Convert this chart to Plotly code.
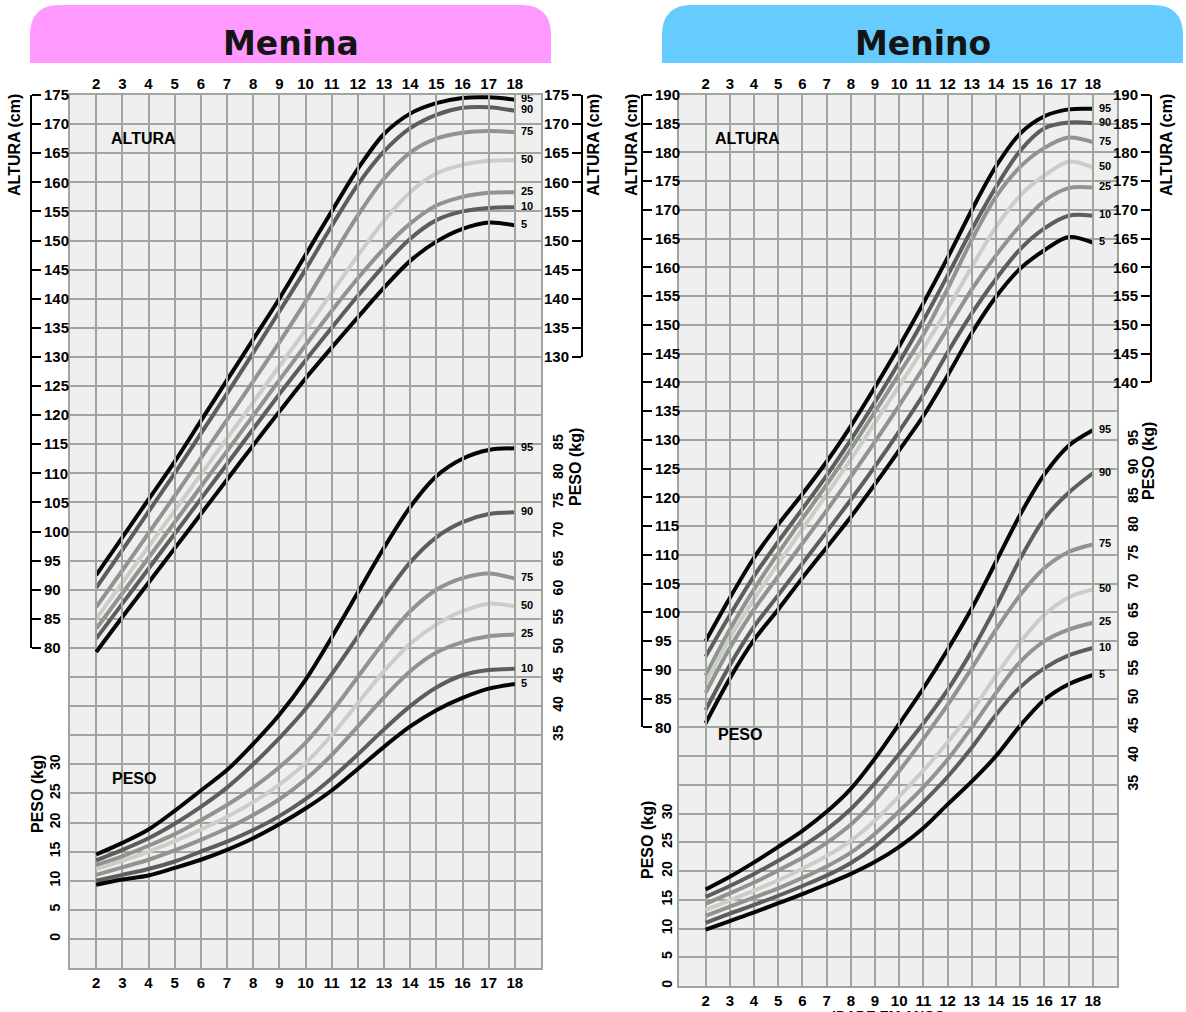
import plotly.graph_objects as go

W, H = 1186, 1012

# ---------------- data ----------------
ages = list(range(2, 19))
age_tick_labels = [str(a) for a in ages]
percentiles = ["95", "90", "75", "50", "25", "10", "5"]

# Menina (girls) – height, cm
girls_height_p95 = [92.5, 99.0, 105.5, 112.0, 119.0, 126.0, 133.0, 140.0, 147.5, 155.0, 162.3, 168.3, 171.8, 173.6, 174.5, 174.6, 174.2]
girls_height_p90 = [90.3, 96.8, 103.4, 110.0, 116.8, 123.7, 130.7, 137.8, 145.0, 152.5, 159.6, 165.3, 169.3, 171.6, 172.8, 172.9, 172.3]
girls_height_p75 = [87.0, 93.3, 99.7, 106.1, 112.6, 119.2, 125.8, 132.5, 139.5, 147.0, 154.3, 160.6, 165.1, 167.5, 168.5, 168.8, 168.6]
girls_height_p50 = [85.0, 91.2, 97.4, 103.6, 109.8, 116.0, 122.2, 128.4, 134.6, 141.0, 147.4, 153.4, 158.3, 161.5, 163.0, 163.7, 163.8]
girls_height_p25 = [83.3, 89.4, 95.5, 101.6, 107.7, 113.8, 119.9, 126.0, 132.0, 137.9, 143.5, 148.6, 152.9, 156.0, 157.5, 158.2, 158.3]
girls_height_p10 = [81.6, 87.6, 93.6, 99.6, 105.6, 111.6, 117.6, 123.6, 129.4, 135.0, 140.5, 145.7, 150.3, 153.5, 155.0, 155.6, 155.7]
girls_height_p5 = [79.3, 85.3, 91.2, 97.1, 103.0, 108.9, 114.8, 120.6, 126.3, 131.6, 136.8, 141.9, 146.5, 149.8, 152.0, 153.1, 152.6]

# Menina (girls) – weight, kg
girls_weight_p95 = [14.5, 16.5, 18.8, 22.0, 25.5, 29.0, 33.5, 38.5, 44.5, 51.8, 59.5, 67.2, 74.2, 79.5, 82.5, 84.0, 84.3]
girls_weight_p90 = [13.5, 15.3, 17.3, 19.8, 22.7, 26.0, 30.0, 34.5, 39.5, 45.5, 52.0, 58.7, 64.7, 69.0, 71.6, 73.0, 73.3]
girls_weight_p75 = [12.7, 14.2, 16.0, 18.0, 20.4, 23.0, 26.0, 29.5, 33.7, 39.0, 45.0, 51.0, 56.3, 60.0, 62.0, 62.8, 61.9]
girls_weight_p50 = [12.0, 13.4, 15.0, 16.8, 18.8, 21.0, 23.5, 26.5, 30.2, 35.0, 40.5, 46.0, 50.7, 54.0, 56.3, 57.6, 57.1]
girls_weight_p25 = [11.0, 12.3, 13.6, 15.2, 17.0, 19.0, 21.3, 24.0, 27.4, 31.6, 36.5, 41.5, 46.0, 49.2, 51.0, 52.0, 52.3]
girls_weight_p10 = [10.0, 11.0, 12.0, 13.3, 15.0, 16.7, 18.7, 21.1, 24.0, 27.6, 31.7, 36.0, 40.0, 43.2, 45.3, 46.2, 46.4]
girls_weight_p5 = [9.3, 10.2, 10.9, 12.2, 13.6, 15.3, 17.3, 19.7, 22.4, 25.5, 29.2, 33.0, 36.5, 39.3, 41.4, 43.0, 43.8]

# Menino (boys) – height, cm
boys_height_p95 = [95.0, 102.5, 109.5, 115.3, 120.6, 126.2, 132.4, 139.2, 146.3, 153.8, 161.7, 170.0, 177.6, 183.3, 186.3, 187.5, 187.6]
boys_height_p90 = [92.3, 99.5, 106.3, 112.3, 118.0, 123.8, 130.0, 136.6, 143.5, 150.8, 158.6, 166.6, 174.0, 180.3, 184.2, 185.2, 185.1]
boys_height_p75 = [89.0, 97.0, 104.0, 110.3, 116.3, 122.2, 128.4, 134.9, 141.5, 148.3, 156.3, 164.8, 172.3, 177.5, 180.8, 182.6, 181.8]
boys_height_p50 = [87.7, 95.5, 102.3, 108.5, 114.5, 120.5, 126.6, 133.0, 139.4, 145.9, 152.8, 160.1, 167.0, 172.5, 176.0, 178.4, 177.4]
boys_height_p25 = [86.0, 93.8, 100.5, 106.3, 112.0, 117.7, 123.6, 129.7, 136.0, 142.6, 149.4, 156.2, 162.1, 167.3, 171.6, 173.8, 173.9]
boys_height_p10 = [83.0, 90.8, 97.5, 103.0, 108.5, 114.0, 119.6, 125.4, 131.5, 137.9, 145.2, 152.0, 158.0, 163.2, 166.8, 169.0, 169.0]
boys_height_p5 = [80.7, 88.5, 95.2, 100.5, 106.0, 111.3, 116.6, 122.3, 128.2, 134.2, 141.2, 148.6, 154.9, 159.8, 163.0, 165.3, 164.3]

# Menino (boys) – weight, kg
boys_weight_p95 = [16.8, 19.0, 21.5, 24.2, 27.0, 30.3, 34.3, 39.6, 45.6, 51.8, 58.5, 65.7, 73.8, 82.0, 89.0, 94.0, 96.7]
boys_weight_p90 = [15.5, 17.4, 19.5, 21.8, 24.3, 27.2, 30.8, 35.3, 40.4, 45.7, 51.5, 58.3, 66.0, 74.3, 81.3, 85.8, 89.2]
boys_weight_p75 = [14.3, 16.1, 18.0, 20.1, 22.3, 24.9, 28.1, 32.3, 37.4, 43.0, 48.9, 55.3, 62.0, 68.0, 72.7, 75.5, 76.8]
boys_weight_p50 = [13.2, 14.9, 16.6, 18.4, 20.4, 22.6, 25.3, 28.8, 33.0, 37.5, 42.4, 47.8, 54.0, 59.8, 64.6, 67.6, 69.0]
boys_weight_p25 = [12.2, 13.8, 15.4, 17.0, 18.8, 20.8, 23.2, 26.5, 30.4, 34.6, 39.4, 45.0, 51.0, 56.4, 60.0, 62.0, 63.2]
boys_weight_p10 = [11.0, 12.6, 14.1, 15.7, 17.4, 19.2, 21.4, 24.3, 28.0, 32.0, 36.4, 41.5, 47.2, 52.0, 55.3, 57.5, 58.8]
boys_weight_p5 = [9.8, 11.3, 12.8, 14.4, 16.0, 17.7, 19.5, 21.6, 24.2, 27.5, 31.6, 35.6, 40.0, 45.3, 49.8, 52.5, 54.1]

# tick labels
girls_height_left_ticks = list(range(80, 176, 5))
girls_height_right_ticks = list(range(130, 176, 5))
girls_weight_left_ticks = list(range(0, 31, 5))
girls_weight_right_ticks = list(range(35, 86, 5))
boys_height_left_ticks = list(range(80, 191, 5))
boys_height_right_ticks = list(range(140, 191, 5))
boys_weight_left_ticks = list(range(0, 31, 5))
boys_weight_right_ticks = list(range(35, 96, 5))

girls_height = [girls_height_p95, girls_height_p90, girls_height_p75, girls_height_p50,
                girls_height_p25, girls_height_p10, girls_height_p5]
girls_weight = [girls_weight_p95, girls_weight_p90, girls_weight_p75, girls_weight_p50,
                girls_weight_p25, girls_weight_p10, girls_weight_p5]
boys_height = [boys_height_p95, boys_height_p90, boys_height_p75, boys_height_p50,
               boys_height_p25, boys_height_p10, boys_height_p5]
boys_weight = [boys_weight_p95, boys_weight_p90, boys_weight_p75, boys_weight_p50,
               boys_weight_p25, boys_weight_p10, boys_weight_p5]

# ---------------- style ----------------
GRID = "#a1a5a0"
BG = "#efefef"
FONT = "Liberation Sans, Arial, sans-serif"
line_colors = {"95": "#050505", "90": "#5b5e5a", "75": "#8f948e", "50": "#cbcdc9",
               "25": "#8f948e", "10": "#5b5e5a", "5": "#050505"}
tickfont = dict(family=FONT, size=15, color="black", weight="bold")
wtickfont = dict(family=FONT, size=14, color="black", weight="bold")


def xf(px):
    return px / W


def yf(py):
    return 1 - py / H


panels = [
    dict(title="Menina", color="#ff99ff", header=(30, 551, 5, 63), grid=(70, 541, 95, 968),
         xrange=[1, 19], hrange=[25, 175], woff=30,
         height=girls_height, weight=girls_weight,
         hl_ticks=girls_height_left_ticks, hr_ticks=girls_height_right_ticks,
         wl_ticks=girls_weight_left_ticks, wr_ticks=girls_weight_right_ticks,
         hl_pos=31, hr_pos=582, wl_pos=63, wr_pos=548,
         alt_l=15, alt_r=594, peso_l=(37, 794), peso_r=(575, 467),
         altura_lbl=(143, 138), peso_lbl=(134, 778),
         ax=dict(xm=1, xt=2, ym=1, yw=2, ywr=3, yhl=4, yhr=5)),
    dict(title="Menino", color="#66ccff", header=(662, 1183, 5, 63), grid=(679, 1117, 95, 986),
         xrange=[0.9, 19], hrange=[35, 190], woff=35,
         height=boys_height, weight=boys_weight,
         hl_ticks=boys_height_left_ticks, hr_ticks=boys_height_right_ticks,
         wl_ticks=boys_weight_left_ticks, wr_ticks=boys_weight_right_ticks,
         hl_pos=642, hr_pos=1151, wl_pos=675, wr_pos=1123,
         alt_l=632, alt_r=1167, peso_l=(647, 840), peso_r=(1149, 461),
         altura_lbl=(747, 138), peso_lbl=(740, 734),
         ax=dict(xm=3, xt=4, ym=6, yw=7, ywr=8, yhl=9, yhr=10)),
]


def aname(kind, n):
    return f"{kind}axis" if n == 1 else f"{kind}axis{n}"


def aref(kind, n):
    return kind if n == 1 else f"{kind}{n}"


fig = go.Figure()
layout = dict(width=W, height=H, margin=dict(l=0, r=0, t=0, b=0, pad=0, autoexpand=False),
              paper_bgcolor="white", plot_bgcolor="rgba(0,0,0,0)",
              showlegend=False, shapes=[], annotations=[])

for p in panels:
    a = p["ax"]
    x0, x1, ytop, ybot = p["grid"]
    h0, h1 = p["hrange"]

    def cpy(c, ytop=ytop, ybot=ybot, h0=h0, h1=h1):
        return ytop + (h1 - c) / (h1 - h0) * (ybot - ytop)

    xm, xt = aref("x", a["xm"]), aref("x", a["xt"])
    ym = aref("y", a["ym"])

    # header tab
    hx0, hx1, hy0, hy1 = p["header"]
    r = 30
    pts = [("M", hx0, hy1), ("L", hx0, hy0 + r), ("Q", hx0, hy0, hx0 + r, hy0),
           ("L", hx1 - r, hy0), ("Q", hx1, hy0, hx1, hy0 + r), ("L", hx1, hy1)]
    path = ""
    for seg in pts:
        cmd = seg[0]
        coords = seg[1:]
        s = " ".join(f"{xf(coords[i]):.5f},{yf(coords[i+1]):.5f}" for i in range(0, len(coords), 2))
        path += f"{cmd}{s} "
    path += "Z"
    layout["shapes"].append(dict(type="path", path=path, xref="paper", yref="paper",
                                 fillcolor=p["color"], line=dict(width=0), layer="below"))
    layout["annotations"].append(dict(text=f"<b>{p['title']}</b>", x=xf((hx0 + hx1) / 2), y=yf(44),
                                      xref="paper", yref="paper", showarrow=False,
                                      xanchor="center", yanchor="middle",
                                      font=dict(family="DejaVu Sans, Verdana, sans-serif", size=33, color="#141414")))
    # grid background
    layout["shapes"].append(dict(type="rect", xref="paper", yref="paper", x0=xf(x0), x1=xf(x1),
                                 y0=yf(ybot), y1=yf(ytop), fillcolor=BG, line=dict(width=0), layer="below"))

    # main axes
    layout[aname("x", a["xm"])] = dict(domain=[xf(x0), xf(x1)], range=p["xrange"], anchor=ym,
                                       tickvals=ages, ticktext=age_tick_labels, showgrid=True,
                                       gridcolor=GRID, gridwidth=2, showline=True, mirror=True,
                                       linecolor=GRID, linewidth=2, ticks="", tickfont=tickfont,
                                       zeroline=False, fixedrange=True, automargin=False,
                                       ticklabelstandoff=0)
    layout[aname("x", a["xt"])] = dict(overlaying=xm, side="top", anchor=ym, range=p["xrange"],
                                       tickvals=ages, ticktext=age_tick_labels, showgrid=False,
                                       showline=False, ticks="", tickfont=tickfont, zeroline=False,
                                       automargin=False, ticklabelstandoff=2)
    layout[aname("y", a["ym"])] = dict(domain=[yf(ybot), yf(ytop)], range=p["hrange"], anchor=xm,
                                       tickvals=list(range(h0, h1 + 1, 5)), showticklabels=False,
                                       showgrid=True, gridcolor=GRID, gridwidth=2, showline=True,
                                       mirror=True, linecolor=GRID, linewidth=2, ticks="",
                                       zeroline=False, fixedrange=True, automargin=False)
    wrange = [h0 - p["woff"], h1 - p["woff"]]
    layout[aname("y", a["yw"])] = dict(overlaying=ym, anchor="free", position=xf(p["wl_pos"]),
                                       side="left", range=wrange, tickvals=p["wl_ticks"],
                                       tickangle=-90, showgrid=False, showline=False, ticks="",
                                       zeroline=False, tickfont=wtickfont, automargin=False)
    layout[aname("y", a["ywr"])] = dict(overlaying=ym, anchor="free", position=xf(p["wr_pos"]),
                                        side="right", range=wrange, tickvals=p["wr_ticks"],
                                        tickangle=-90, showgrid=False, showline=False, ticks="",
                                        zeroline=False, tickfont=wtickfont, automargin=False)
    hl0 = p["hl_ticks"][0]
    layout[aname("y", a["yhl"])] = dict(anchor="free", position=xf(p["hl_pos"]), side="right",
                                        domain=[yf(cpy(hl0)), yf(ytop)], range=[hl0, h1],
                                        tickvals=p["hl_ticks"], ticks="outside", ticklen=9,
                                        tickwidth=2, tickcolor="black", showline=True,
                                        linecolor="black", linewidth=2, showgrid=False,
                                        zeroline=False, tickfont=tickfont, automargin=False)
    hr0 = p["hr_ticks"][0]
    layout[aname("y", a["yhr"])] = dict(anchor="free", position=xf(p["hr_pos"]), side="left",
                                        domain=[yf(cpy(hr0)), yf(ytop)], range=[hr0, h1],
                                        tickvals=p["hr_ticks"], ticks="outside", ticklen=9,
                                        tickwidth=2, tickcolor="black", showline=True,
                                        linecolor="black", linewidth=2, showgrid=False,
                                        zeroline=False, tickfont=tickfont, automargin=False)

    # dummy traces so every axis is drawn
    for xa, ya in [(xt, ym), (xm, aref("y", a["ywr"])), (xm, aref("y", a["yhl"])), (xm, aref("y", a["yhr"]))]:
        fig.add_trace(go.Scatter(x=[None], y=[None], xaxis=xa, yaxis=ya, mode="lines",
                                 hoverinfo="skip", showlegend=False))

    # curves
    for name, hv, wv in zip(percentiles, p["height"], p["weight"]):
        txt = [""] * (len(ages) - 1) + ["  " + name]
        for vals, ya in [(hv, ym), (wv, aref("y", a["yw"]))]:
            fig.add_trace(go.Scatter(
                x=ages, y=vals, xaxis=xm, yaxis=ya, mode="lines+text", text=txt,
                textposition="middle right",
                textfont=dict(family=FONT, size=11, color="black", weight="bold"),
                line=dict(color=line_colors[name], width=4, shape="spline", smoothing=0.9),
                cliponaxis=False, hoverinfo="skip", showlegend=False))

    # in-chart labels and axis titles
    def ann(text, x, y, size=16, angle=0):
        layout["annotations"].append(dict(text=f"<b>{text}</b>", x=xf(x), y=yf(y), xref="paper",
                                          yref="paper", showarrow=False, textangle=angle,
                                          xanchor="center", yanchor="middle",
                                          font=dict(family=FONT, size=size, color="black")))

    ann("ALTURA", *p["altura_lbl"])
    ann("PESO", *p["peso_lbl"])
    ann("ALTURA (cm)", p["alt_l"], 145, angle=-90)
    ann("ALTURA (cm)", p["alt_r"], 145, angle=-90)
    ann("PESO (kg)", *p["peso_l"], angle=-90)
    ann("PESO (kg)", *p["peso_r"], angle=-90)

layout["annotations"].append(dict(text="<b>IDADE EM ANOS</b>", x=xf(888), y=yf(1006), xref="paper",
                                  yref="paper", xanchor="center", yanchor="top", showarrow=False,
                                  font=dict(family=FONT, size=14, color="black")))

fig.update_layout(**layout)
fig.write_html("out.html")
